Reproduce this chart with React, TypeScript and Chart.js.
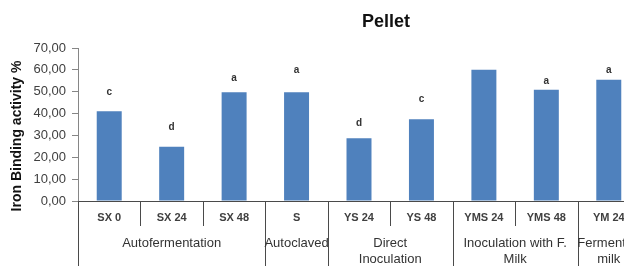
import React, { useEffect, useRef } from "react";
import { Chart, registerables } from "chart.js";

Chart.register(...registerables);

const categories = ["SX 0", "SX 24", "SX 48", "S", "YS 24", "YS 48", "YMS 24", "YMS 48", "YM 24"];
const values = [41.1, 24.8, 49.7, 49.7, 28.7, 37.4, 60.0, 50.9, 55.5];
const letters = ["c", "d", "a", "a", "d", "c", "", "a", "a"];
const letterLevels = [49.8, 33.7, 56.3, 60.0, 35.5, 46.6, 0, 54.9, 60.0];
const groupLabels = [["Autofermentation"], ["Autoclaved"], ["Direct", "Inoculation"], ["Inoculation with F.", "Milk"], ["Fermented", "milk"]];
const groupSizes = [3, 1, 2, 2, 1];
const yMin = 0;
const yMax = 70;
const yStep = 10;
const chartTitle = "Pellet";
const yTitle = "Iron Binding activity %";

const FONT = "'Liberation Sans', Arial, sans-serif";

const overlay = {
  id: "overlay",
  afterDraw(chart: any) {
    const ctx = chart.ctx as CanvasRenderingContext2D;
    const xs = chart.scales.x;
    const ys = chart.scales.y;
    const area = chart.chartArea;
    const n = categories.length;
    const catW = (area.right - area.left) / n;
    const H = chart.height;
    ctx.save();

    // x axis line
    ctx.strokeStyle = "#4a4a4a";
    ctx.lineWidth = 1;
    ctx.beginPath();
    ctx.moveTo(area.left, Math.round(area.bottom) + 0.5);
    ctx.lineTo(area.right, Math.round(area.bottom) + 0.5);
    ctx.stroke();

    // separators
    const groupBounds = new Set<number>();
    let acc = 0;
    groupBounds.add(0);
    groupSizes.forEach((s) => {
      acc += s;
      groupBounds.add(acc);
    });
    for (let i = 0; i <= n; i++) {
      const bx = Math.round(xs.getPixelForValue(i) - catW / 2) + 0.5;
      const end = groupBounds.has(i) ? H : area.bottom + 25;
      ctx.beginPath();
      ctx.moveTo(bx, area.bottom);
      ctx.lineTo(bx, end);
      ctx.stroke();
    }

    // category labels
    ctx.fillStyle = "#404040";
    ctx.textAlign = "center";
    ctx.textBaseline = "middle";
    ctx.font = `bold 11px ${FONT}`;
    categories.forEach((c, i) => {
      ctx.fillText(c, xs.getPixelForValue(i), area.bottom + 17);
    });

    // group labels
    ctx.font = `13px ${FONT}`;
    ctx.fillStyle = "#333";
    let start = 0;
    groupSizes.forEach((s, gi) => {
      const cx = (xs.getPixelForValue(start) + xs.getPixelForValue(start + s - 1)) / 2;
      groupLabels[gi].forEach((line, li) => {
        ctx.fillText(line, cx, area.bottom + 42 + li * 16);
      });
      start += s;
    });

    // significance letters
    ctx.font = `bold 10px ${FONT}`;
    ctx.fillStyle = "#333";
    letters.forEach((l, i) => {
      if (!l) return;
      ctx.fillText(l, xs.getPixelForValue(i), ys.getPixelForValue(letterLevels[i]));
    });

    // title
    ctx.fillStyle = "#111";
    ctx.font = `bold 18px ${FONT}`;
    ctx.fillText(chartTitle, 386, 22);

    // y title
    ctx.font = `bold 14px ${FONT}`;
    ctx.translate(17, 136);
    ctx.rotate(-Math.PI / 2);
    ctx.fillText(yTitle, 0, 0);

    ctx.restore();
  },
};

export default function App() {
  const ref = useRef<HTMLCanvasElement>(null);
  useEffect(() => {
    if (!ref.current) return;
    const chart = new Chart(ref.current, {
      type: "bar",
      data: {
        labels: categories,
        datasets: [
          {
            data: values,
            backgroundColor: "#4F81BD",
            borderWidth: 0,
            barPercentage: 0.4,
            categoryPercentage: 1,
          },
        ],
      },
      options: {
        responsive: false,
        animation: false,
        events: [],
        layout: { padding: { top: 48, bottom: 65, left: 0, right: 0 } },
        plugins: { legend: { display: false }, tooltip: { enabled: false }, title: { display: false } },
        scales: {
          x: { display: false },
          y: {
            min: yMin,
            max: yMax,
            afterFit: (s: any) => {
              s.width = 78;
            },
            ticks: {
              stepSize: yStep,
              padding: 6,
              color: "#404040",
              font: { family: FONT, size: 13 },
              callback: (v: any) => Number(v).toFixed(2).replace(".", ","),
            },
            grid: { drawOnChartArea: false, drawTicks: true, tickLength: 6, color: "#868686" },
            border: { display: true, color: "#868686" },
          },
        },
      },
      plugins: [overlay],
    });
    return () => chart.destroy();
  }, []);
  return (
    <div style={{ position: "fixed", left: 0, top: 0, width: 624, height: 266, overflow: "hidden", background: "#fff" }}>
      <canvas ref={ref} width={640} height={266} style={{ display: "block" }} />
    </div>
  );
}
